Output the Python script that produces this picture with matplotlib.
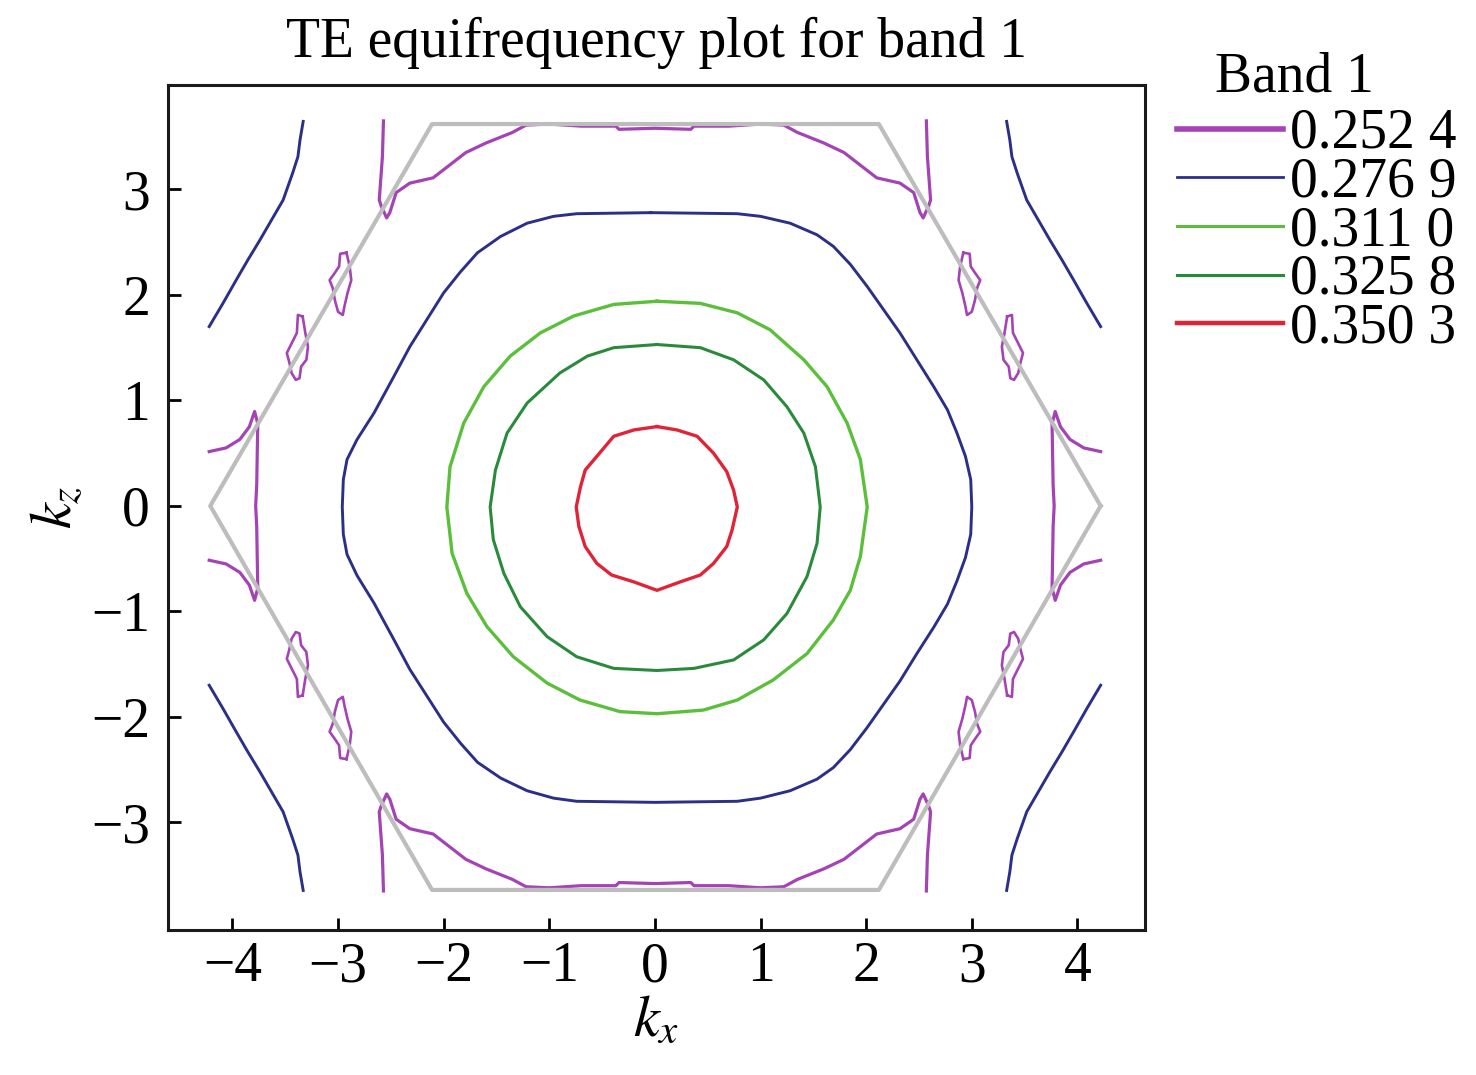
import matplotlib.pyplot as plt
from matplotlib.lines import Line2D
import numpy as np

plt.rcParams['font.family'] = ['Liberation Serif', 'DejaVu Serif']
plt.rcParams['mathtext.fontset'] = 'stix'

# contour levels (legend)
levels = ['0.252 4', '0.276 9', '0.311 0', '0.325 8', '0.350 3']
colors = ['#a444b4', '#2b2f86', '#5cbf3c', '#2a8a3c', '#e02438']

# 0.3503 band (closed)
red_kx = [0.02, 0.21, 0.40, 0.555, 0.68, 0.745, 0.78, 0.73, 0.68, 0.555, 0.43, 0.24, 0.02,
          -0.20, -0.41, -0.55, -0.66, -0.72, -0.745, -0.705, -0.66, -0.55, -0.39, -0.20, 0.02]
red_kz = [0.752, 0.72, 0.66, 0.50, 0.325, 0.15, -0.01, -0.23, -0.385, -0.545, -0.655, -0.72, -0.80,
          -0.72, -0.655, -0.545, -0.385, -0.195, -0.01, 0.18, 0.34, 0.47, 0.66, 0.72, 0.752]

# 0.3258 band (closed)
dgreen_kx = [0.02, 0.43, 0.745, 1.03, 1.25, 1.41, 1.52, 1.565, 1.535, 1.44, 1.25, 1.03, 0.745, 0.37,
             0.02, -0.39, -0.74, -1.02, -1.275, -1.43, -1.53, -1.56, -1.51, -1.40, -1.21, -0.90,
             -0.64, -0.39, 0.02]
dgreen_kz = [1.53, 1.50, 1.385, 1.195, 0.94, 0.69, 0.37, -0.01, -0.355, -0.67, -1.02, -1.27, -1.46,
             -1.54, -1.56, -1.54, -1.43, -1.24, -0.955, -0.64, -0.32, -0.01, 0.34, 0.69, 0.975, 1.26,
             1.42, 1.50, 1.53]

# 0.3110 band (closed)
lgreen_kx = [0.02, 0.43, 0.78, 1.09, 1.41, 1.63, 1.82, 1.945, 2.01, 1.945, 1.85, 1.69, 1.44, 1.12,
             0.78, 0.46, 0.02, -0.33, -0.71, -1.02, -1.34, -1.59, -1.78, -1.92, -1.97, -1.94, -1.81,
             -1.62, -1.37, -1.085, -0.77, -0.39, 0.02]
lgreen_kz = [1.94, 1.92, 1.83, 1.67, 1.385, 1.13, 0.785, 0.44, -0.01, -0.48, -0.80, -1.08, -1.40,
             -1.65, -1.84, -1.935, -1.97, -1.95, -1.84, -1.68, -1.43, -1.145, -0.83, -0.45, -0.01,
             0.37, 0.785, 1.13, 1.42, 1.64, 1.80, 1.91, 1.94]

# 0.2769 band, central closed curve
navy_kx = [-0.04, 0.78, 1.00, 1.28, 1.535, 1.69, 1.85, 2.01, 2.165, 2.32, 2.48, 2.64, 2.77, 2.86,
           2.94, 2.99, 3.00, 2.99, 2.94, 2.86, 2.77, 2.64, 2.48, 2.32, 2.165, 2.01, 1.85, 1.69,
           1.535, 1.28, 1.00, 0.78, 0.0, -0.74, -0.96, -1.21, -1.46, -1.68, -1.84, -2.00, -2.16,
           -2.32, -2.47, -2.66, -2.82, -2.915, -2.95, -2.96, -2.95, -2.915, -2.82, -2.66, -2.47,
           -2.32, -2.16, -2.00, -1.84, -1.68, -1.46, -1.21, -0.96, -0.74, -0.04]
navy_kz = [2.78, 2.77, 2.745, 2.68, 2.57, 2.46, 2.29, 2.08, 1.86, 1.64, 1.385, 1.13, 0.91, 0.69,
           0.47, 0.25, -0.01, -0.27, -0.49, -0.71, -0.93, -1.15, -1.40, -1.66, -1.88, -2.10, -2.31,
           -2.48, -2.59, -2.70, -2.77, -2.80, -2.81, -2.80, -2.77, -2.70, -2.58, -2.43, -2.25,
           -2.05, -1.80, -1.55, -1.27, -0.92, -0.66, -0.46, -0.27, -0.01, 0.25, 0.44, 0.63, 0.88,
           1.23, 1.51, 1.765, 2.02, 2.22, 2.40, 2.555, 2.68, 2.745, 2.77, 2.78]

# 0.2769 band, corner arc (kx>0, kz>0 quadrant; repeated in the other corners)
arc_kx = [3.33, 3.36, 3.38, 3.43, 3.52, 3.63, 3.74, 3.855, 3.965, 4.09, 4.22]
arc_kz = [3.645, 3.47, 3.31, 3.155, 2.90, 2.71, 2.52, 2.33, 2.14, 1.92, 1.70]

# 0.2524 band pieces (kx>0 half)
top_kx = [0.0, 0.34, 0.37, 0.70, 1.00, 1.22, 1.35, 1.60, 1.79, 2.10, 2.32, 2.45, 2.51, 2.54,
          2.59, 2.61, 2.58, 2.57]
top_kz = [3.58, 3.57, 3.60, 3.60, 3.62, 3.61, 3.54, 3.44, 3.35, 3.11, 3.06, 2.97, 2.78, 2.73,
          2.84, 2.90, 3.31, 3.65]
side_kx = [4.22, 4.06, 3.93, 3.84, 3.79, 3.76, 3.765, 3.77, 3.78]
side_kz = [0.515, 0.55, 0.63, 0.75, 0.895, 0.78, 0.50, 0.20, 0.0]
loop1_kx = [2.92, 2.98, 2.99, 3.03, 3.08, 3.05, 3.03, 3.00, 2.955, 2.94, 2.91, 2.875, 2.89, 2.92]
loop1_kz = [2.40, 2.39, 2.27, 2.21, 2.14, 2.065, 1.95, 1.84, 1.81, 1.89, 2.02, 2.14, 2.27, 2.40]
loop2_kx = [3.335, 3.38, 3.39, 3.44, 3.485, 3.46, 3.44, 3.40, 3.365, 3.35, 3.30, 3.285, 3.31, 3.335]
loop2_kz = [1.796, 1.81, 1.64, 1.54, 1.45, 1.355, 1.26, 1.195, 1.21, 1.32, 1.385, 1.51, 1.64, 1.796]

# first Brillouin zone outline
bz_kx = [4.22, 2.12, -2.11, -4.21, -2.11, 2.12, 4.22]
bz_kz = [0.0, 3.62, 3.62, 0.0, -3.64, -3.64, 0.0]

fig = plt.figure(figsize=(14.76, 10.75), dpi=100)
ax = fig.add_axes([168 / 1476, 1 - 930 / 1075, (1145 - 168) / 1476, (930 - 85) / 1075])

pc, nc = colors[0], colors[1]
lw = 2.3

# purple pieces, built by mirroring the read half/quadrant
tx, tz = np.array(top_kx), np.array(top_kz)
top_x = np.concatenate([-tx[::-1], tx[1:]])
top_z = np.concatenate([tz[::-1], tz[1:]])
sx, sz = np.array(side_kx), np.array(side_kz)
side_x = np.concatenate([sx, sx[::-1][1:]])
side_z = np.concatenate([sz, -sz[::-1][1:]])
for s in (1, -1):
    ax.plot(top_x, s * top_z, color=pc, lw=lw, zorder=2)
    ax.plot(s * side_x, side_z, color=pc, lw=lw, zorder=2)
    for sz_ in (1, -1):
        ax.plot(s * np.array(loop1_kx), sz_ * np.array(loop1_kz), color=pc, lw=1.9, zorder=2)
        ax.plot(s * np.array(loop2_kx), sz_ * np.array(loop2_kz), color=pc, lw=1.9, zorder=2)
        ax.plot(s * np.array(arc_kx), sz_ * np.array(arc_kz), color=nc, lw=2.1, zorder=2)

ax.plot(navy_kx, navy_kz, color=nc, lw=2.1, zorder=2)
ax.plot(lgreen_kx, lgreen_kz, color=colors[2], lw=2.4, zorder=2)
ax.plot(dgreen_kx, dgreen_kz, color=colors[3], lw=2.2, zorder=2)
ax.plot(red_kx, red_kz, color=colors[4], lw=2.4, zorder=2)
ax.plot(bz_kx, bz_kz, color='#bdbdbd', lw=3.0, zorder=3)

ax.set_xlim(-4.61, 4.64)
ax.set_ylim(-4.02, 3.99)
ax.set_xticks(range(-4, 5))
ax.set_yticks(range(-3, 4))
ax.tick_params(direction='in', length=9, width=2, labelsize=40, top=False, right=False)
ax.tick_params(axis='x', pad=8)
ax.tick_params(axis='y', pad=13)
for sp in ax.spines.values():
    sp.set_linewidth(2.2)
    sp.set_color('#1a1a1a')

ax.set_title('TE equifrequency plot for band 1', fontsize=40, pad=20)
ax.set_xlabel('$k_x$', fontsize=42, labelpad=2)
ax.set_ylabel('$k_z$', fontsize=42, labelpad=4)

handles = [Line2D([], [], color=c, lw=w) for c, w in zip(colors, [4.0, 2.0, 2.2, 2.2, 3.2])]
fig.legend(handles, levels, loc='upper left', bbox_to_anchor=(1177 / 1476, 1 - 108 / 1075),
           frameon=False, fontsize=40, handlelength=1.9, handletextpad=0.13,
           labelspacing=-0.06, borderpad=0, borderaxespad=0)
fig.text(1215 / 1476, 1 - 77 / 1075, 'Band 1', fontsize=40, va='center', ha='left')

fig.savefig('out.png', dpi=100)
